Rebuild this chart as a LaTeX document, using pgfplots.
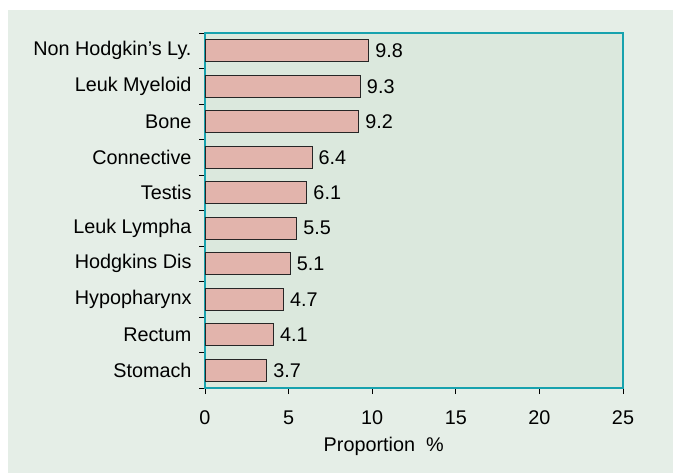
\documentclass[border=0pt]{standalone}
\usepackage{fontspec}
\setmainfont{Liberation Sans}
\usepackage{pgfplots}
\pgfplotsset{compat=1.18}
\definecolor{outerbg}{HTML}{E5EEE7}
\definecolor{plotbg}{HTML}{DBE8DD}
\definecolor{barfill}{HTML}{E2B4AC}
\definecolor{tealframe}{HTML}{17A2AE}
\newcommand\chf{\fontsize{19.8bp}{23bp}\selectfont}
\begin{document}
\begin{tikzpicture}
\useasboundingbox (0bp,0bp) rectangle (673bp,473bp);
\fill[white] (0bp,0bp) rectangle (673bp,473bp);
\fill[outerbg] (8bp,0bp) rectangle (673bp,463bp);
\begin{axis}[
  at={(205bp,85bp)}, anchor=south west,
  scale only axis, width=418bp, height=355bp,
  xmin=0, xmax=25, ymin=-0.5, ymax=9.5,
  xbar, bar width=22bp,
  xtick={0,5,...,25},
  ytick={0,...,9},
  yticklabels={Stomach,Rectum,Hypopharynx,Hodgkins Dis,Leuk Lympha,Testis,Connective,Bone,Leuk Myeloid,Non Hodgkin's Ly.},
  minor ytick={-0.5,0.5,...,9.5},
  major y tick style={draw=none},
  major tick length=6bp, minor tick length=6bp,
  tick align=outside,
  xtick pos=bottom, ytick pos=left,
  axis background/.style={fill=plotbg},
  axis line style={tealframe, line width=2.5bp},
  tick style={black, line width=0.8bp},
  tick label style={font=\chf},
  xticklabel style={yshift=-13bp},
  yticklabel style={xshift=-4bp},
  /pgf/number format/assume math mode=true,
  label style={font=\chf},
  xlabel={Proportion\ \ \%},
  xlabel style={at={(axis description cs:0.4275,-0.165)}, anchor=center},
  nodes near coords={\chf\pgfmathprintnumber[fixed,precision=1,fixed zerofill,assume math mode=true]{\pgfplotspointmeta}},
  nodes near coords align={horizontal},
  nodes near coords style={black, font=\chf, anchor=west, inner sep=0pt, xshift=6bp},
]
\addplot[fill=barfill, draw=black!85, line width=1bp] coordinates {
(3.7,0) (4.1,1) (4.7,2) (5.1,3) (5.5,4) (6.1,5) (6.4,6) (9.2,7) (9.3,8) (9.8,9)};
\draw[black, line width=1bp] ([xshift=-1.5bp]rel axis cs:0,0) -- ([xshift=-1.5bp]rel axis cs:0,1);
\draw[black, line width=1bp] ([yshift=-1.5bp,xshift=-2bp]rel axis cs:0,0) -- ([yshift=-1.5bp]rel axis cs:1,0);
\end{axis}
\end{tikzpicture}
\end{document}
